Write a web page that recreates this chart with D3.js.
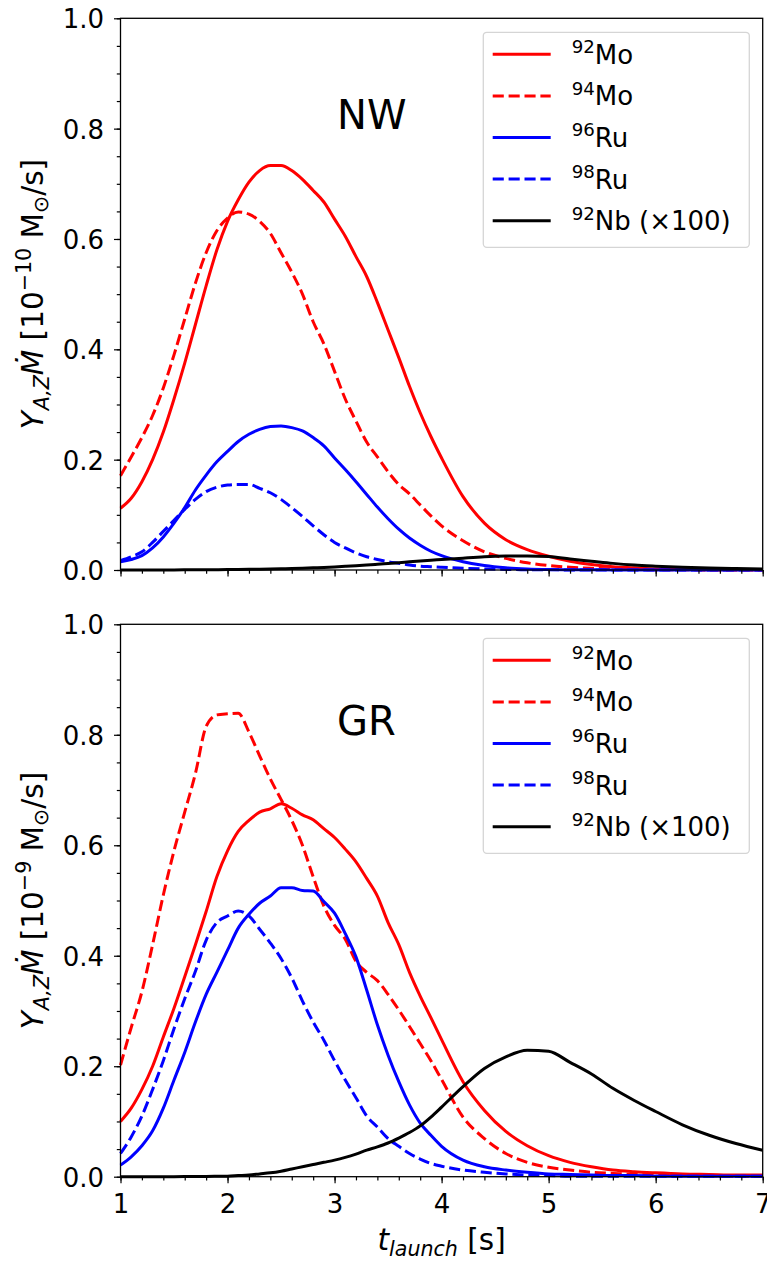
<!DOCTYPE html>
<html>
<head>
<meta charset="utf-8">
<script src="https://cdn.jsdelivr.net/npm/d3@7"></script>
<style>
  body { margin: 0; background: #fff; }
  svg { display: block; font-family: 'DejaVu Sans', sans-serif; }
</style>
</head>
<body>
<svg id="chart" width="767" height="1261"></svg>
<script>
// launch times (s)
const tLaunch = [1.0, 1.1, 1.2, 1.3, 1.4, 1.5, 1.6, 1.7, 1.8, 1.9, 2.0, 2.1, 2.2, 2.3, 2.4, 2.5, 2.6, 2.7, 2.8, 2.9,
  3.0, 3.1, 3.2, 3.3, 3.4, 3.5, 3.6, 3.7, 3.8, 3.9, 4.0, 4.2, 4.4, 4.6, 4.8, 5.0, 5.2, 5.4, 5.6, 5.8,
  6.0, 6.25, 6.5, 6.75, 7.0];

// NW panel, units of 1e-10 Msun/s
const nwMo92 = [0.112, 0.13, 0.16, 0.2, 0.25, 0.31, 0.375, 0.445, 0.515, 0.58, 0.632, 0.671, 0.703, 0.724, 0.733, 0.733, 0.724, 0.708, 0.688, 0.667,
  0.636, 0.605, 0.568, 0.532, 0.485, 0.435, 0.385, 0.333, 0.285, 0.242, 0.203, 0.133, 0.085, 0.055, 0.037, 0.025, 0.016, 0.01, 0.006, 0.004,
  0.002, 0.001, 0.0005, 0.0003, 0.0002];
const nwMo94 = [0.171, 0.205, 0.24, 0.28, 0.33, 0.39, 0.455, 0.52, 0.575, 0.615, 0.638, 0.649, 0.645, 0.632, 0.61, 0.575, 0.54, 0.5, 0.45, 0.41,
  0.36, 0.31, 0.27, 0.232, 0.205, 0.178, 0.155, 0.138, 0.118, 0.098, 0.08, 0.053, 0.033, 0.021, 0.013, 0.008, 0.005, 0.003, 0.002, 0.001,
  0.0005, 0.0003, 0.0002, 0.0001, 0.0001];
const nwRu96 = [0.015, 0.019, 0.026, 0.04, 0.06, 0.085, 0.113, 0.145, 0.172, 0.196, 0.215, 0.233, 0.246, 0.255, 0.26, 0.261, 0.258, 0.252, 0.24, 0.225,
  0.203, 0.182, 0.16, 0.137, 0.114, 0.093, 0.074, 0.058, 0.045, 0.034, 0.026, 0.015, 0.008, 0.004, 0.002, 0.001, 0.0005, 0.0003, 0.0002, 0.0001,
  0.0001, 0.0001, 0, 0, 0];
const nwRu98 = [0.017, 0.024, 0.033, 0.05, 0.07, 0.09, 0.11, 0.128, 0.142, 0.15, 0.154, 0.155, 0.155, 0.148, 0.14, 0.128, 0.113, 0.097, 0.08, 0.064,
  0.05, 0.04, 0.031, 0.024, 0.019, 0.015, 0.012, 0.009, 0.007, 0.006, 0.005, 0.003, 0.002, 0.001, 0.0005, 0.0003, 0.0002, 0.0001, 0.0001, 0,
  0, 0, 0, 0, 0];
const nwNb92 = [0, 0, 0.0001, 0.0001, 0.0002, 0.0002, 0.0003, 0.0004, 0.0005, 0.0006, 0.0008, 0.001, 0.0012, 0.0015, 0.0018, 0.0021, 0.0026, 0.0032, 0.0039, 0.0047,
  0.0056, 0.0066, 0.0077, 0.009, 0.0104, 0.0118, 0.0133, 0.0148, 0.0162, 0.0176, 0.019, 0.0215, 0.0238, 0.0252, 0.0256, 0.0245, 0.02, 0.016, 0.012, 0.009,
  0.007, 0.005, 0.0035, 0.0025, 0.002];

// GR panel, units of 1e-9 Msun/s
const grMo92 = [0.1, 0.124, 0.158, 0.2, 0.253, 0.305, 0.362, 0.42, 0.48, 0.543, 0.59, 0.625, 0.645, 0.66, 0.666, 0.675, 0.667, 0.655, 0.646, 0.63,
  0.614, 0.593, 0.57, 0.54, 0.508, 0.46, 0.42, 0.37, 0.327, 0.288, 0.248, 0.172, 0.12, 0.082, 0.056, 0.038, 0.026, 0.018, 0.012, 0.009,
  0.007, 0.005, 0.004, 0.003, 0.003];
const grMo94 = [0.202, 0.27, 0.335, 0.42, 0.51, 0.59, 0.66, 0.73, 0.815, 0.836, 0.838, 0.839, 0.805, 0.762, 0.72, 0.683, 0.645, 0.6, 0.543, 0.49,
  0.455, 0.43, 0.39, 0.37, 0.355, 0.33, 0.302, 0.272, 0.241, 0.21, 0.176, 0.108, 0.069, 0.042, 0.026, 0.017, 0.012, 0.008, 0.006, 0.004,
  0.003, 0.002, 0.002, 0.001, 0.001];
const grRu96 = [0.021, 0.036, 0.056, 0.083, 0.124, 0.175, 0.225, 0.28, 0.33, 0.37, 0.41, 0.45, 0.475, 0.495, 0.508, 0.523, 0.523, 0.518, 0.517, 0.498,
  0.477, 0.44, 0.398, 0.338, 0.275, 0.22, 0.172, 0.13, 0.097, 0.075, 0.055, 0.03, 0.018, 0.012, 0.008, 0.005, 0.004, 0.003, 0.002, 0.002,
  0.001, 0.001, 0.001, 0.001, 0.001];
const grRu98 = [0.042, 0.072, 0.11, 0.158, 0.21, 0.268, 0.322, 0.372, 0.428, 0.46, 0.472, 0.481, 0.472, 0.448, 0.423, 0.395, 0.36, 0.318, 0.28, 0.247,
  0.21, 0.175, 0.143, 0.11, 0.09, 0.069, 0.055, 0.042, 0.032, 0.024, 0.019, 0.012, 0.008, 0.005, 0.003, 0.002, 0.001, 0.001, 0.001, 0.001,
  0.001, 0.001, 0.001, 0.001, 0.001];
const grNb92 = [0, 0, 0, 0, 0, 0.0001, 0.0002, 0.0003, 0.0005, 0.0008, 0.001, 0.002, 0.003, 0.005, 0.007, 0.01, 0.014, 0.018, 0.022, 0.026,
  0.03, 0.035, 0.041, 0.048, 0.054, 0.061, 0.07, 0.08, 0.092, 0.108, 0.126, 0.163, 0.196, 0.217, 0.229, 0.227, 0.207, 0.186, 0.16, 0.138,
  0.118, 0.094, 0.075, 0.06, 0.048];

const xTicks = [1, 2, 3, 4, 5, 6, 7];
const yTicks = [0, 0.2, 0.4, 0.6, 0.8, 1.0];
const isotopes = [
  { mass: '92', el: 'Mo', suffix: '' },
  { mass: '94', el: 'Mo', suffix: '' },
  { mass: '96', el: 'Ru', suffix: '' },
  { mass: '98', el: 'Ru', suffix: '' },
  { mass: '92', el: 'Nb', suffix: ' (\u00d7100)' },
];
const lineStyles = [
  { color: '#ff0000', dash: null },
  { color: '#ff0000', dash: '11.1,4.8' },
  { color: '#0000ff', dash: null },
  { color: '#0000ff', dash: '11.1,4.8' },
  { color: '#000000', dash: null },
];

const panels = [
  { name: 'NW', exp: '\u221210', series: [nwMo92, nwMo94, nwRu96, nwRu98, nwNb92], top: 18.3, bottom: 570, showX: false, labelY: 129 },
  { name: 'GR', exp: '\u22129', series: [grMo92, grMo94, grRu96, grRu98, grNb92], top: 624.3, bottom: 1176.7, showX: true, labelY: 735 },
];

const svg = d3.select('#chart');
const left = 120.5;
const right = 762.7;
const tickFont = 26;
const labelFont = 29.5;

const xScale = d3.scaleLinear().domain([1, 7]).range([left, right]);

panels.forEach((panel) => {
  const yScale = d3.scaleLinear().domain([0, 1]).range([panel.bottom, panel.top]);
  const g = svg.append('g');

  const line = d3.line()
    .curve(d3.curveMonotoneX)
    .x((d) => xScale(d[0]))
    .y((d) => yScale(d[1]));

  panel.series.forEach((vals, i) => {
    g.append('path')
      .datum(tLaunch.map((t, j) => [t, vals[j]]))
      .attr('d', line)
      .attr('fill', 'none')
      .attr('stroke', lineStyles[i].color)
      .attr('stroke-width', 3)
      .attr('stroke-dasharray', lineStyles[i].dash);
  });

  // minor ticks
  const xMinor = d3.axisBottom(xScale).tickValues(d3.range(1, 7.01, 0.2)).tickSize(3.7).tickFormat('');
  const yMinor = d3.axisLeft(yScale).tickValues(d3.range(0, 1.001, 0.05)).tickSize(3.7).tickFormat('');
  g.append('g').attr('transform', `translate(0,${panel.bottom})`).call(xMinor);
  g.append('g').attr('transform', `translate(${left},0)`).call(yMinor);

  const xAxis = d3.axisBottom(xScale).tickValues(xTicks).tickSize(6.5).tickPadding(10)
    .tickFormat(panel.showX ? d3.format('d') : '');
  const yAxis = d3.axisLeft(yScale).tickValues(yTicks).tickSize(6.5).tickPadding(10).tickFormat(d3.format('.1f'));
  g.append('g').attr('class', 'xa').attr('transform', `translate(0,${panel.bottom})`).call(xAxis);
  g.append('g').attr('class', 'ya').attr('transform', `translate(${left},0)`).call(yAxis);

  g.selectAll('.domain').remove();
  g.selectAll('.tick line').attr('stroke', '#000').attr('stroke-width', 1.2);
  g.selectAll('.tick text').attr('fill', '#000').attr('font-size', tickFont)
    .attr('font-family', "'DejaVu Sans', sans-serif");
  g.selectAll('.xa .tick text').attr('dy', null).attr('y', 36.5);
  g.selectAll('.ya .tick text').attr('x', -16.5).attr('dy', '0.36em');

  // frame
  g.append('rect')
    .attr('x', left).attr('y', panel.top)
    .attr('width', right - left).attr('height', panel.bottom - panel.top)
    .attr('fill', 'none').attr('stroke', '#000').attr('stroke-width', 1.3);

  // panel name
  g.append('text')
    .attr('x', 337).attr('y', panel.labelY)
    .attr('font-size', 40)
    .text(panel.name);

  // y label
  const midY = (panel.top + panel.bottom) / 2;
  const yl = g.append('text')
    .attr('transform', `translate(43,${midY}) rotate(-90)`)
    .attr('text-anchor', 'middle')
    .attr('font-size', labelFont);
  yl.append('tspan').attr('font-style', 'italic').text('Y');
  yl.append('tspan').attr('font-style', 'italic').attr('font-size', 20.6).attr('dy', 6).attr('dx', 1).text('A,Z');
  yl.append('tspan').attr('font-style', 'italic').attr('dy', -6).text('\u1e40');
  yl.append('tspan').text(' [10');
  yl.append('tspan').attr('font-size', 20.6).attr('dy', -12).text(panel.exp);
  yl.append('tspan').attr('dy', 12).text(' M');
  yl.append('tspan').attr('font-size', 20.6).attr('dy', 5).text('\u2299');
  yl.append('tspan').attr('dy', -5).text('/s]');

  // legend
  const legTop = panel.top + 14;
  const rowGap = 41.6;
  const lg = g.append('g');
  lg.append('rect')
    .attr('x', 483.3).attr('y', legTop)
    .attr('width', 266).attr('height', 215)
    .attr('rx', 3.5)
    .attr('fill', 'rgba(255,255,255,0.8)')
    .attr('stroke', '#d5d5d5').attr('stroke-width', 1.3);
  isotopes.forEach((iso, i) => {
    const ry = legTop + 22 + i * rowGap;
    lg.append('line')
      .attr('x1', 492.7).attr('x2', 550.7)
      .attr('y1', ry).attr('y2', ry)
      .attr('stroke', lineStyles[i].color)
      .attr('stroke-width', 3)
      .attr('stroke-dasharray', lineStyles[i].dash);
    const t = lg.append('text')
      .attr('x', 571.7).attr('y', ry + 9.5)
      .attr('font-size', tickFont);
    t.append('tspan').attr('font-size', 18.2).attr('dy', -10.7).text(iso.mass);
    t.append('tspan').attr('dy', 10.7).text(iso.el + iso.suffix);
  });
});

// x label
const xl = svg.append('text')
  .attr('x', (left + right) / 2).attr('y', 1250)
  .attr('text-anchor', 'middle')
  .attr('font-size', labelFont);
xl.append('tspan').attr('font-style', 'italic').text('t');
xl.append('tspan').attr('font-style', 'italic').attr('font-size', 20.6).attr('dy', 6).text('launch');
xl.append('tspan').attr('dy', -6).text(' [s]');
</script>
</body>
</html>
